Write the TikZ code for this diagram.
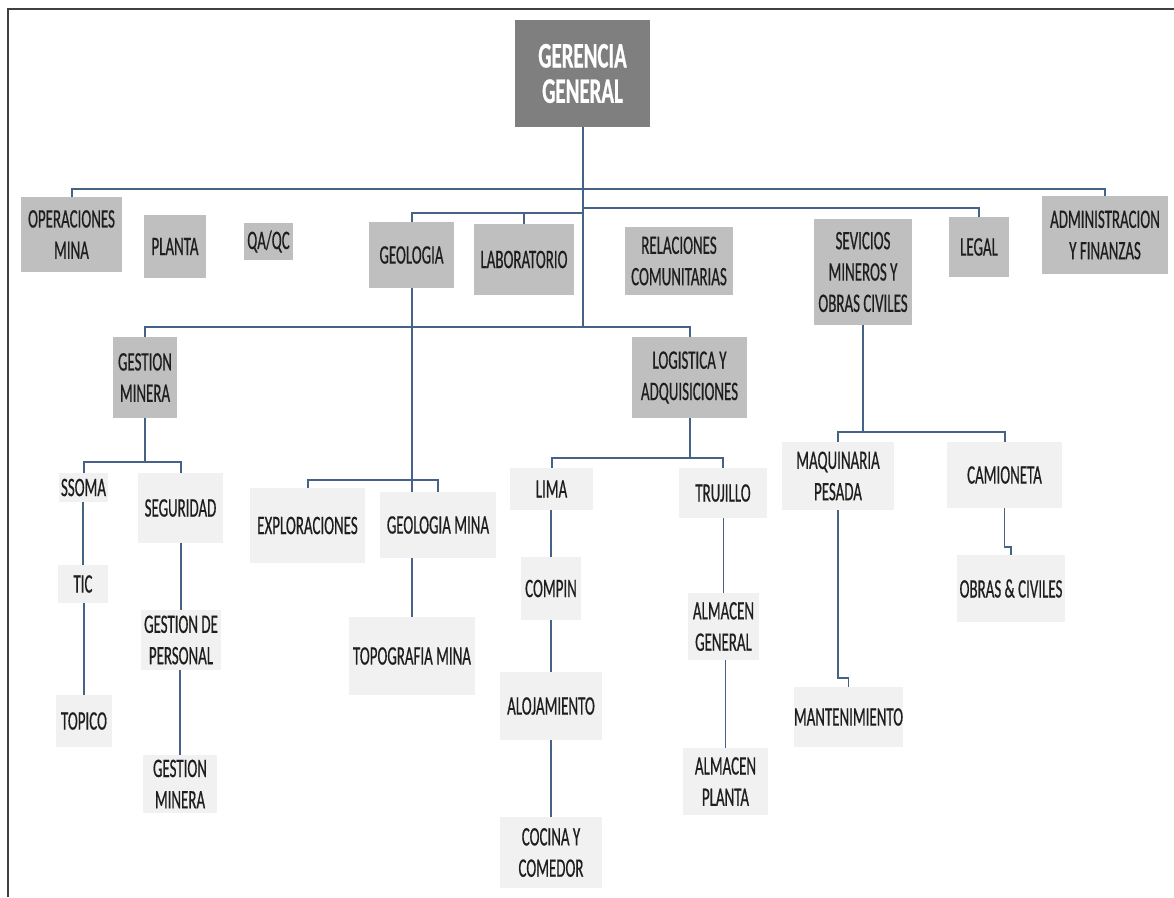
\documentclass[tikz,border=0pt]{standalone}
\usepackage{fontspec}
\newfontfamily\boxfont[FakeStretch=0.56,FakeBold=0.5]{Carlito}
\newfontfamily\headfont[FakeStretch=0.58,FakeBold=0.6]{Carlito}

\definecolor{linkblue}{RGB}{70,98,135}
\definecolor{headgray}{RGB}{127,127,127}
\definecolor{midgray}{RGB}{191,191,191}
\definecolor{palegray}{RGB}{241,241,241}
\definecolor{inkgray}{RGB}{30,30,30}
\definecolor{framegray}{RGB}{64,64,64}

% box given by its corners: name, x1, y1, x2, y2, style, text
\newcommand\orgnode[7]{%
  \node[#6, minimum width={(#4-#2)*0.75pt}, minimum height={(#5-#3)*0.75pt}]
    (#1) at ({(#2+#4)/2},{(#3+#5)/2}) {#7};}

\tikzset{
  orgbase/.style={inner sep=0pt, align=center, text=inkgray,
    font=\boxfont\fontsize{20pt}{23.5pt}\selectfont},
  headbox/.style={orgbase, fill=headgray, text=white,
    font=\headfont\bfseries\fontsize{27pt}{26.5pt}\selectfont},
  unitbox/.style={orgbase, fill=midgray},
  subbox/.style={orgbase, fill=palegray},
  link/.style={draw=linkblue, line width=1.5pt},
  thinlink/.style={draw=linkblue, line width=0.9pt},
}

\begin{document}
\begin{tikzpicture}[x=0.75pt, y=-0.75pt]
\fill[white] (0,0) rectangle (1174,897);
\useasboundingbox (0,0) rectangle (1174,897);

% frame
\draw[framegray, line width=1.5pt] (8,897) -- (8,9) -- (1174,9);

% top level
\orgnode{ger}{515}{20}{650}{127}{headbox}{GERENCIA\\GENERAL}

% first level units
\orgnode{ops}{21}{197}{122}{272}{unitbox}{OPERACIONES\\MINA}
\orgnode{pla}{144}{215}{206}{278}{unitbox}{PLANTA}
\orgnode{qa}{244}{223}{293}{260}{unitbox}{QA/QC}
\orgnode{geo}{369}{222}{454}{288}{unitbox}{GEOLOGIA}
\orgnode{lab}{474}{224}{574}{295}{unitbox}{LABORATORIO}
\orgnode{rel}{625}{227}{733}{295}{unitbox}{RELACIONES\\COMUNITARIAS}
\orgnode{sev}{814}{219}{912}{325}{unitbox}{SEVICIOS\\MINEROS Y\\OBRAS CIVILES}
\orgnode{leg}{949}{217}{1009}{277}{unitbox}{LEGAL}
\orgnode{adm}{1042}{196}{1168}{274}{unitbox}{ADMINISTRACION\\Y FINANZAS}
\orgnode{gm}{113}{337}{177}{418}{unitbox}{GESTION\\MINERA}
\orgnode{log}{632}{337}{747}{418}{unitbox}{LOGISTICA Y\\ADQUISICIONES}

% gestion minera branch
\orgnode{ssoma}{59}{473}{108}{502}{subbox}{SSOMA}
\orgnode{seg}{138}{473}{223}{543}{subbox}{SEGURIDAD}
\orgnode{tic}{58}{565}{108}{603}{subbox}{TIC}
\orgnode{topico}{56}{695}{112}{747}{subbox}{TOPICO}
\orgnode{gdp}{141}{610}{221}{670}{subbox}{GESTION DE\\PERSONAL}
\orgnode{gmtwo}{143}{755}{217}{813}{subbox}{GESTION\\MINERA}

% geologia branch
\orgnode{exp}{250}{488}{365}{563}{subbox}{EXPLORACIONES}
\orgnode{gmina}{380}{492}{496}{558}{subbox}{GEOLOGIA MINA}
\orgnode{topo}{349}{617}{475}{695}{subbox}{TOPOGRAFIA MINA}

% logistica branch
\orgnode{lima}{510}{468}{593}{510}{subbox}{LIMA}
\orgnode{comp}{521}{557}{581}{620}{subbox}{COMPIN}
\orgnode{aloj}{500}{672}{602}{740}{subbox}{ALOJAMIENTO}
\orgnode{coc}{500}{817}{602}{888}{subbox}{COCINA Y\\COMEDOR}
\orgnode{tru}{679}{468}{767}{518}{subbox}{TRUJILLO}
\orgnode{ag}{688}{593}{759}{660}{subbox}{ALMACEN\\GENERAL}
\orgnode{ap}{683}{748}{768}{815}{subbox}{ALMACEN\\PLANTA}

% servicios branch
\orgnode{maq}{782}{442}{894}{510}{subbox}{MAQUINARIA\\PESADA}
\orgnode{cam}{947}{442}{1062}{508}{subbox}{CAMIONETA}
\orgnode{mant}{795}{687}{902}{747}{subbox}{MANTENIMIENTO}
\orgnode{obr}{957}{555}{1065}{622}{subbox}{OBRAS \& CIVILES}

% junction points of the main trunk
\coordinate (r1) at (582.5,189);
\coordinate (r2) at (582.5,208);
\coordinate (r3) at (582.5,213);
\coordinate (r4) at (582.5,327);

\draw[link] (ger.south) -- (r4);
\draw[link] (ops.north) |- (r1) -| (adm.north);
\draw[link] (r2) -| (leg.north);
\draw[link] (r3) -| (geo.north);
\draw[thinlink] (lab.north) -- (lab.north |- r3);
\draw[link] (gm.north) |- (r4) -| (log.north);

% gestion minera links
\coordinate (s1) at (145,462);
\draw[link] (gm.south) -- (s1);
\draw[link] (ssoma.north) |- (s1) -| (seg.north);
\draw[thinlink] (tic.north) -- (tic.north |- ssoma.south);
\draw[thinlink] (topico.north) -- (topico.north |- tic.south);
\draw[thinlink] (gdp.north) -- (gdp.north |- seg.south);
\draw[thinlink] (gmtwo.north) -- (gmtwo.north |- gdp.south);

% geologia links
\coordinate (g1) at (411.5,480);
\draw[link] (geo.south) -- (geo.south |- gmina.north);
\draw[link] (exp.north) |- (g1) -| (gmina.north);
\draw[thinlink] (topo.north) -- (topo.north |- gmina.south);

% logistica links
\coordinate (l1) at (689.5,458);
\draw[link] (log.south) -- (l1);
\draw[link] (lima.north) |- (l1) -| (tru.north);
\draw[thinlink] (comp.north) -- (comp.north |- lima.south);
\draw[thinlink] (aloj.north) -- (aloj.north |- comp.south);
\draw[thinlink] (coc.north) -- (coc.north |- aloj.south);
\draw[thinlink] (ag.north) -- (ag.north |- tru.south);
\draw[thinlink] (ap.north) -- (ap.north |- ag.south);

% servicios links
\coordinate (m1) at (863,432);
\coordinate (m2) at (835,678);
\coordinate (m3) at (1005,547);
\draw[link] (sev.south) -- (m1);
\draw[link] (maq.north) |- (m1) -| (cam.north);
\draw[thinlink] (maq.south) -- (maq.south |- m2) -| (mant.north);
\draw[thinlink] (cam.south) -- (cam.south |- m3) -| (obr.north);
\end{tikzpicture}
\end{document}
